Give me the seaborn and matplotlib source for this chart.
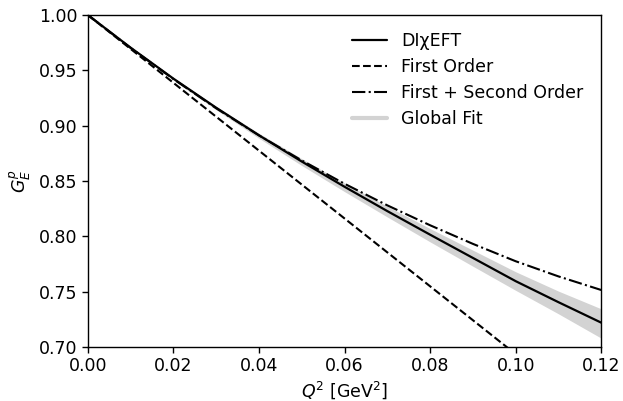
import numpy as np
import pandas as pd
import matplotlib
matplotlib.use("Agg")
import matplotlib.pyplot as plt
from matplotlib.lines import Line2D
import seaborn as sns

# Data
q2 = [0.00, 0.01, 0.02, 0.03, 0.04, 0.05, 0.06, 0.07, 0.08, 0.09, 0.10, 0.11, 0.12]
dichieft = [1.000, 0.9705, 0.9425, 0.9162, 0.8913, 0.8676, 0.8448, 0.8228, 0.8015, 0.7805, 0.7595, 0.7405, 0.7220]
first_second = [1.000, 0.9702, 0.9421, 0.9157, 0.8912, 0.8686, 0.8475, 0.8280, 0.8100, 0.7932, 0.7775, 0.7638, 0.7515]
fit_upper = [1.000, 0.9707, 0.9432, 0.9174, 0.8932, 0.8702, 0.8482, 0.8272, 0.8070, 0.7875, 0.7680, 0.7505, 0.7345]
fit_lower = [1.000, 0.9700, 0.9413, 0.9143, 0.8886, 0.8640, 0.8404, 0.8175, 0.7950, 0.7730, 0.7512, 0.7300, 0.7080]
first_q2 = [0.00, 0.12]
first_order = [1.000, 0.6323]

labels = ["DI\u03c7EFT", "First Order", "First + Second Order", "Global Fit"]

sns.set_style("ticks")
plt.rcParams["font.family"] = ["DejaVu Sans"]
plt.rcParams["mathtext.fontset"] = "dejavusans"
plt.rcParams["text.color"] = "black"
plt.rcParams["axes.labelcolor"] = "black"
plt.rcParams["xtick.color"] = "black"
plt.rcParams["ytick.color"] = "black"

fig = plt.figure(figsize=(6.23, 4.01), dpi=100)
ax = fig.add_axes([0.141, 0.1347, 0.824, 0.8279])

ax.fill_between(q2, fit_lower, fit_upper, color="#d3d3d3", linewidth=0, zorder=1)
sns.lineplot(x=q2, y=dichieft, ax=ax, color="black", linewidth=1.6, zorder=3)
sns.lineplot(x=first_q2, y=first_order, ax=ax, color="black", linewidth=1.5,
             linestyle="--", zorder=3)
sns.lineplot(x=q2, y=first_second, ax=ax, color="black", linewidth=1.5,
             linestyle="-.", zorder=3)

ax.set_xlim(0, 0.12)
ax.set_ylim(0.70, 1.00)
ax.set_xticks([0.00, 0.02, 0.04, 0.06, 0.08, 0.10, 0.12])
ax.set_yticks([0.70, 0.75, 0.80, 0.85, 0.90, 0.95, 1.00])
ax.xaxis.set_major_formatter(matplotlib.ticker.FormatStrFormatter("%.2f"))
ax.yaxis.set_major_formatter(matplotlib.ticker.FormatStrFormatter("%.2f"))
ax.tick_params(labelsize=12.5, length=4, width=1, color="black",
               labelcolor="black", direction="out")
for s in ax.spines.values():
    s.set_color("black")
    s.set_linewidth(1.0)
ax.set_xlabel("$Q^2$ [GeV$^2$]", fontsize=12.5, labelpad=3, color="black")
ax.set_ylabel("$G_E^p$", fontsize=12.5, labelpad=4, color="black")

handles = [
    Line2D([], [], color="black", linewidth=1.6),
    Line2D([], [], color="black", linewidth=1.5, linestyle="--"),
    Line2D([], [], color="black", linewidth=1.5, linestyle="-."),
    Line2D([], [], color="#d3d3d3", linewidth=3),
]
ax.legend(handles, labels, loc="upper right", frameon=False, fontsize=12.5,
          bbox_to_anchor=(0.995, 0.995), handlelength=2.0, labelspacing=0.45,
          labelcolor="black")

fig.savefig("out.png", dpi=100)
